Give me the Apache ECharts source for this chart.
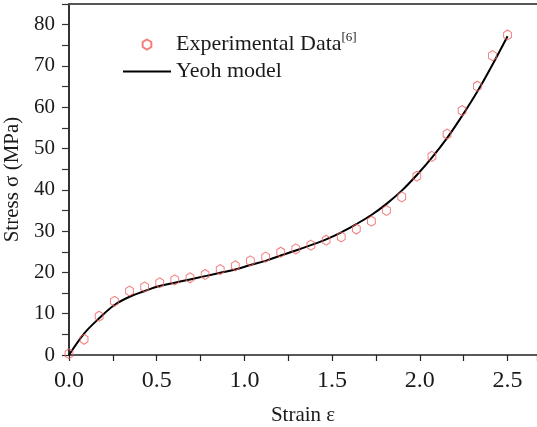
<!DOCTYPE html>
<html>
<head>
<meta charset="utf-8">
<script src="https://cdn.jsdelivr.net/npm/echarts@6/dist/echarts.min.js"></script>
<style>
  html, body { margin: 0; padding: 0; background: #fff; }
  #main { width: 537px; height: 427px; }
</style>
</head>
<body>
<div id="main"></div>
<script>
// strain values of the measured points (also used for the model curve)
const strain = [0, 0.086, 0.172, 0.259, 0.345, 0.431, 0.517, 0.603, 0.690, 0.776,
  0.862, 0.948, 1.034, 1.121, 1.207, 1.293, 1.379, 1.466, 1.552, 1.638,
  1.724, 1.810, 1.897, 1.983, 2.069, 2.155, 2.241, 2.328, 2.414, 2.5]
const expStress = [0.3, 3.8, 9.4, 13.0, 15.5, 16.5, 17.5, 18.2, 18.7, 19.5,
  20.7, 21.6, 22.8, 23.7, 24.9, 25.7, 26.6, 27.8, 28.6, 30.5,
  32.4, 35.0, 38.3, 43.3, 48.1, 53.5, 59.2, 65.1, 72.5, 77.5]
const yeohStress = [0, 5.2, 8.9, 12.1, 14.1, 15.5, 16.7, 17.5, 18.3, 19.1,
  19.9, 20.7, 21.8, 22.8, 24.1, 25.3, 26.6, 28.0, 29.7, 31.7,
  33.9, 36.6, 39.8, 43.6, 47.8, 52.5, 57.9, 63.8, 70.3, 77.2]
const xTicks = [0, 0.5, 1.0, 1.5, 2.0, 2.5]
const yTicks = [0, 10, 20, 30, 40, 50, 60, 70, 80]

const font = 'Liberation Serif'
const hexagon = 'path://M0,-1 L0.866,-0.5 L0.866,0.5 L0,1 L-0.866,0.5 L-0.866,-0.5 Z'

const chart = echarts.init(document.getElementById('main'))
const option = {
  animation: false,
  textStyle: { fontFamily: font, color: '#1a1a1a' },
  grid: { left: 69, top: 4, right: 0, bottom: 72, outerBoundsMode: 'none', containLabel: false },
  legend: {
    orient: 'vertical',
    left: 123,
    top: 31,
    padding: 0,
    itemWidth: 48,
    itemHeight: 10,
    itemGap: 0,
    textStyle: {
      fontFamily: font,
      fontSize: 22,
      lineHeight: 27,
      color: '#1a1a1a',
      rich: {
        a: { fontFamily: font, fontSize: 22, lineHeight: 27, color: '#1a1a1a' },
        s: { fontFamily: font, fontSize: 13, lineHeight: 14, color: '#1a1a1a', verticalAlign: 'top' }
      }
    },
    formatter: name => name === 'Experimental Data' ? '{a|Experimental Data}{s|[6]}' : name,
    data: [
      { name: 'Experimental Data' },
      { name: 'Yeoh model', icon: 'path://M0,0 L48,0 L48,2 L0,2 Z' }
    ]
  },
  xAxis: [{
    type: 'value',
    min: 0,
    max: 2.668,
    interval: 0.5,
    name: 'Strain ε',
    nameLocation: 'middle',
    nameGap: 50,
    nameTextStyle: { fontFamily: font, fontSize: 21, color: '#1a1a1a' },
    splitLine: { show: false },
    axisLine: { onZero: false, lineStyle: { color: '#222', width: 1.5 } },
    axisTick: { show: true, inside: false, length: 6, lineStyle: { color: '#222', width: 1.2 } },
    minorTick: { show: true, splitNumber: 2, length: 6, lineStyle: { color: '#222', width: 1.2 } },
    axisLabel: {
      margin: 14,
      fontFamily: font,
      fontSize: 24,
      color: '#1a1a1a',
      showMaxLabel: false,
      formatter: v => xTicks.includes(Math.round(v * 10) / 10) ? v.toFixed(1) : ''
    }
  }, {
    type: 'value',
    position: 'top',
    min: 0,
    max: 2.668,
    axisLine: { show: true, onZero: false, lineStyle: { color: '#555', width: 2 } },
    axisTick: { show: false },
    axisLabel: { show: false },
    splitLine: { show: false }
  }],
  yAxis: {
    type: 'value',
    min: 0,
    max: 85,
    interval: 10,
    name: 'Stress σ (MPa)',
    nameLocation: 'middle',
    nameGap: 41,
    nameTextStyle: { fontFamily: font, fontSize: 21, color: '#1a1a1a' },
    splitLine: { show: false },
    axisLine: { show: true, onZero: false, lineStyle: { color: '#333', width: 2 } },
    axisTick: { show: true, length: 7, lineStyle: { color: '#333', width: 1.2 } },
    minorTick: { show: true, splitNumber: 2, length: 7, lineStyle: { color: '#333', width: 1.2 } },
    axisLabel: {
      margin: 14,
      fontFamily: font,
      fontSize: 21,
      color: '#1a1a1a',
      showMaxLabel: false,
      formatter: v => yTicks.includes(v) ? String(v) : ''
    }
  },
  series: [{
    name: 'Experimental Data',
    type: 'scatter',
    symbol: hexagon,
    symbolSize: [9, 10],
    symbolKeepAspect: true,
    itemStyle: { color: 'transparent', borderColor: '#f05c5c', borderWidth: 1 },
    data: strain.map((x, i) => [x, expStress[i]]),
    z: 3
  }, {
    name: 'Yeoh model',
    type: 'line',
    symbol: 'none',
    smooth: 0.35,
    lineStyle: { color: '#000', width: 2 },
    itemStyle: { color: '#000' },
    data: strain.map((x, i) => [x, yeohStress[i]]),
    z: 2
  }]
}
chart.setOption(option)
window.onresize = () => {
  chart.resize()
}
</script>
</body>
</html>
